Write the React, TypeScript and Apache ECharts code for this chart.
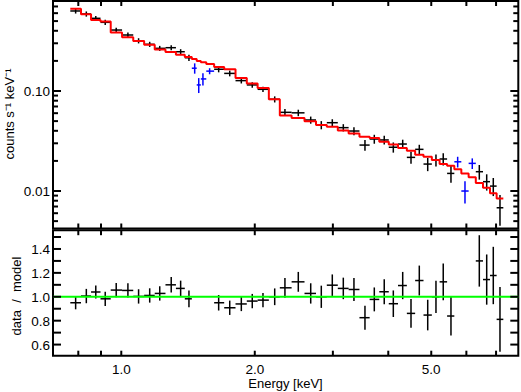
import React, { useEffect, useRef } from 'react';
import * as echarts from 'echarts';

// ---------- data ----------
const blackEnergy = [0.789, 0.834, 0.876, 0.920, 0.974, 1.035, 1.094, 1.159, 1.221, 1.296, 1.361, 1.421, 1.658, 1.756, 1.865, 1.974, 2.087, 2.218, 2.339, 2.507, 2.674, 2.825, 2.991, 3.167, 3.347, 3.544, 3.720, 3.917, 4.106, 4.311, 4.501, 4.699, 4.909, 5.124, 5.321, 5.539, 6.417, 6.668, 6.900, 7.144];
const blackFlux = [0.631, 0.589, 0.533, 0.486, 0.407, 0.363, 0.318, 0.293, 0.267, 0.271, 0.247, 0.215, 0.165, 0.150, 0.127, 0.115, 0.104, 0.0826, 0.0612, 0.0605, 0.0513, 0.0457, 0.0482, 0.0430, 0.0398, 0.0288, 0.0331, 0.0324, 0.0274, 0.0295, 0.0217, 0.0261, 0.0186, 0.0204, 0.0209, 0.0150, 0.0156, 0.0124, 0.0112, 0.0068];
const blackFluxErr = [0.0365, 0.0351, 0.0282, 0.0297, 0.0231, 0.0207, 0.0190, 0.0174, 0.0156, 0.0160, 0.0150, 0.0153, 0.0113, 0.0099, 0.0081, 0.0072, 0.0064, 0.0058, 0.0047, 0.0045, 0.0042, 0.0043, 0.0040, 0.0036, 0.0036, 0.0035, 0.0034, 0.0032, 0.0032, 0.0031, 0.0030, 0.0029, 0.0028, 0.0028, 0.0029, 0.0029, 0.0026, 0.0023, 0.0023, 0.0023];
const blackModel = [0.664, 0.585, 0.513, 0.494, 0.385, 0.345, 0.317, 0.290, 0.260, 0.246, 0.231, 0.219, 0.174, 0.165, 0.135, 0.119, 0.107, 0.0826, 0.0569, 0.0538, 0.0499, 0.0457, 0.0439, 0.0402, 0.0375, 0.0349, 0.0338, 0.0311, 0.0291, 0.0270, 0.0252, 0.0230, 0.0220, 0.0204, 0.0186, 0.0179, 0.0120, 0.0108, 0.0095, 0.0084];
const ratio = [0.95, 1.006, 1.04, 0.983, 1.056, 1.053, 1.003, 1.011, 1.028, 1.10, 1.07, 0.983, 0.95, 0.908, 0.94, 0.964, 0.972, 1.0, 1.075, 1.125, 1.028, 1.0, 1.097, 1.07, 1.061, 0.825, 0.978, 1.042, 0.942, 1.094, 0.861, 1.136, 0.847, 1.0, 1.125, 0.839, 1.30, 1.144, 1.178, 0.811];
const ratioErr = [0.055, 0.06, 0.055, 0.06, 0.06, 0.06, 0.06, 0.06, 0.06, 0.065, 0.065, 0.07, 0.065, 0.06, 0.06, 0.06, 0.06, 0.07, 0.083, 0.083, 0.085, 0.093, 0.09, 0.09, 0.097, 0.1, 0.1, 0.104, 0.111, 0.114, 0.12, 0.125, 0.128, 0.135, 0.154, 0.164, 0.215, 0.21, 0.24, 0.27];

const blueEnergy = [1.464, 1.495, 1.528, 1.582, 5.735, 5.957, 6.187];
const blueFlux = [0.169, 0.115, 0.132, 0.158, 0.0196, 0.0100, 0.0189];
const blueFluxErr = [0.020, 0.0196, 0.0185, 0.011, 0.0024, 0.0025, 0.0023];
const blueModel = [0.209, 0.200, 0.194, 0.186, 0.0165, 0.0150, 0.0137];

const xTickValues = [0.8, 0.9, 1, 2, 3, 4, 5, 6, 7];
const xTickLabels = ['', '', '1.0', '2.0', '', '', '5.0', '', ''];
const fluxTickValues = [0.005, 0.006, 0.007, 0.008, 0.009, 0.01, 0.02, 0.03, 0.04, 0.05, 0.06, 0.07, 0.08, 0.09, 0.1, 0.2, 0.3, 0.4, 0.5, 0.6, 0.7];
const fluxTickLabels = ['', '', '', '', '', '0.01', '', '', '', '', '', '', '', '', '0.10', '', '', '', '', '', ''];
const ratioTickValues = [0.6, 0.7, 0.8, 0.9, 1.0, 1.1, 1.2, 1.3, 1.4, 1.5];
const ratioTickLabels = ['0.6', '', '0.8', '', '1.0', '', '1.2', '', '1.4', ''];

const X_MIN = 0.7015;
const X_MAX = 7.857;
const FLUX_MIN = 0.00422;
const FLUX_MAX = 0.794;
const RATIO_MIN = 0.507;
const RATIO_MAX = 1.557;

const FONT = "'Liberation Sans', Arial, Helvetica, sans-serif";

// ---------- bins (edges halfway, in log space, between neighbouring channels) ----------
type Bin = { e: number; m: number; lo: number; hi: number };
function buildBins(): Bin[] {
  const all = [
    ...blackEnergy.map((e, i) => ({ e, m: blackModel[i] })),
    ...blueEnergy.map((e, i) => ({ e, m: blueModel[i] })),
  ].sort((a, b) => a.e - b.e);
  return all.map((b, i) => {
    const prev = all[i - 1];
    const next = all[i + 1];
    const lo = prev ? Math.sqrt(prev.e * b.e) : (b.e * b.e) / Math.sqrt(b.e * next.e);
    const hi = next ? Math.sqrt(next.e * b.e) : (b.e * b.e) / Math.sqrt(b.e * prev.e);
    return { e: b.e, m: b.m, lo, hi };
  });
}

export default function App() {
  const ref = useRef<HTMLDivElement>(null);
  useEffect(() => {
    if (!ref.current) return;
    const chart = echarts.init(ref.current, undefined, { renderer: 'svg' });
    const bins = buildBins();
    const edgeOf = (e: number) => bins.find((b) => b.e === e)!;

    const modelLine: number[][] = [];
    bins.forEach((b) => {
      modelLine.push([b.lo, b.m]);
      modelLine.push([b.hi, b.m]);
    });

    const errBarSeries = (
      name: string,
      color: string,
      data: number[][],
      gi: number
    ) => ({
      type: 'custom',
      name,
      xAxisIndex: gi,
      yAxisIndex: gi,
      clip: false,
      z: 3,
      encode: { x: 0, y: 1 },
      data,
      renderItem: (params: any, api: any) => {
        const x = api.value(0);
        const y = api.value(1);
        const err = api.value(2);
        const p = api.coord([x, y]);
        const pLo = api.coord([api.value(3), y]);
        const pHi = api.coord([api.value(4), y]);
        const pUp = api.coord([x, y + err]);
        const pDn = api.coord([x, y - err]);
        const st = { stroke: color, lineWidth: 1.5 };
        return {
          type: 'group',
          children: [
            { type: 'line', shape: { x1: pLo[0], y1: p[1], x2: pHi[0], y2: p[1] }, style: st },
            { type: 'line', shape: { x1: p[0], y1: pUp[1], x2: p[0], y2: pDn[1] }, style: st },
          ],
        };
      },
    });

    const xTickSeries = (gi: number, yVal: number, len: number, withLabels: boolean) => ({
      type: 'custom',
      xAxisIndex: gi,
      yAxisIndex: gi,
      clip: false,
      z: 10,
      silent: true,
      encode: { x: 0, y: 1 },
      data: xTickValues.map((v) => [v, yVal]),
      renderItem: (params: any, api: any) => {
        const cs = params.coordSys;
        const px = api.coord([api.value(0), api.value(1)])[0];
        const st = { stroke: '#000', lineWidth: 2 };
        const bottom = cs.y + cs.height;
        const children: any[] = [
          { type: 'line', shape: { x1: px, y1: bottom, x2: px, y2: bottom - len }, style: st },
          { type: 'line', shape: { x1: px, y1: cs.y, x2: px, y2: cs.y + len }, style: st },
        ];
        const label = xTickLabels[params.dataIndex];
        if (withLabels && label) {
          children.push({
            type: 'text',
            x: px,
            y: bottom + 14,
            style: { text: label, fill: '#000', fontSize: 13.5, fontFamily: FONT, align: 'center', verticalAlign: 'middle' },
          });
        }
        return { type: 'group', children };
      },
    });

    const yTickSeries = (
      gi: number,
      values: number[],
      labels: string[],
      majorLen: number,
      minorLen: number
    ) => ({
      type: 'custom',
      xAxisIndex: gi,
      yAxisIndex: gi,
      clip: false,
      z: 10,
      silent: true,
      encode: { x: 0, y: 1 },
      data: values.map((v) => [X_MIN, v]),
      renderItem: (params: any, api: any) => {
        const cs = params.coordSys;
        const py = api.coord([api.value(0), api.value(1)])[1];
        const label = labels[params.dataIndex];
        const len = label ? majorLen : minorLen;
        const st = { stroke: '#000', lineWidth: 2 };
        const right = cs.x + cs.width;
        const children: any[] = [
          { type: 'line', shape: { x1: cs.x, y1: py, x2: cs.x + len, y2: py }, style: st },
          { type: 'line', shape: { x1: right, y1: py, x2: right - len, y2: py }, style: st },
        ];
        if (label) {
          children.push({
            type: 'text',
            x: cs.x - 3,
            y: py + 0.5,
            style: { text: label, fill: '#000', fontSize: 13.5, fontFamily: FONT, align: 'right', verticalAlign: 'middle' },
          });
        }
        return { type: 'group', children };
      },
    });

    const hiddenAxis = {
      axisLine: { show: false },
      axisTick: { show: false },
      axisLabel: { show: false },
      splitLine: { show: false },
      minorTick: { show: false },
    };

    const option: any = {
      animation: false,
      backgroundColor: '#fff',
      grid: [
        { left: 53, right: 2.7, top: 1, height: 227.5, show: true, borderColor: '#000', borderWidth: 2, backgroundColor: 'transparent' },
        { left: 53, right: 2.7, top: 230.2, height: 125.5, show: true, borderColor: '#000', borderWidth: 2, backgroundColor: 'transparent' },
      ],
      xAxis: [
        { type: 'log', logBase: 10, gridIndex: 0, min: X_MIN, max: X_MAX, ...hiddenAxis },
        { type: 'log', logBase: 10, gridIndex: 1, min: X_MIN, max: X_MAX, ...hiddenAxis },
      ],
      yAxis: [
        { type: 'log', logBase: 10, gridIndex: 0, min: FLUX_MIN, max: FLUX_MAX, ...hiddenAxis },
        { type: 'value', gridIndex: 1, min: RATIO_MIN, max: RATIO_MAX, ...hiddenAxis },
      ],
      graphic: [
        {
          type: 'text',
          x: 9.5,
          y: 114,
          rotation: Math.PI / 2,
          style: { text: 'counts s\u207B\u00B9 keV\u207B\u00B9', fill: '#000', fontSize: 13, fontFamily: FONT, align: 'center', verticalAlign: 'middle' },
        },
        {
          type: 'text',
          x: 16,
          y: 296,
          rotation: Math.PI / 2,
          style: { text: 'data  /  model', fill: '#000', fontSize: 13, fontFamily: FONT, align: 'center', verticalAlign: 'middle' },
        },
        {
          type: 'text',
          x: 285.5,
          y: 383,
          style: { text: 'Energy [keV]', fill: '#000', fontSize: 13, fontFamily: FONT, align: 'center', verticalAlign: 'middle' },
        },
      ],
      series: [
        errBarSeries(
          'data',
          '#000000',
          blackEnergy.map((e, i) => [e, blackFlux[i], blackFluxErr[i], edgeOf(e).lo, edgeOf(e).hi]),
          0
        ),
        errBarSeries(
          'data2',
          '#0000ff',
          blueEnergy.map((e, i) => [e, blueFlux[i], blueFluxErr[i], edgeOf(e).lo, edgeOf(e).hi]),
          0
        ),
        {
          type: 'line',
          name: 'model',
          xAxisIndex: 0,
          yAxisIndex: 0,
          data: modelLine,
          showSymbol: false,
          symbol: 'none',
          z: 4,
          lineStyle: { color: '#ff0000', width: 2 },
        },
        errBarSeries(
          'ratio',
          '#000000',
          blackEnergy.map((e, i) => [e, ratio[i], ratioErr[i], edgeOf(e).lo, edgeOf(e).hi]),
          1
        ),
        {
          type: 'line',
          name: 'unity',
          xAxisIndex: 1,
          yAxisIndex: 1,
          data: [
            [X_MIN, 1],
            [X_MAX, 1],
          ],
          showSymbol: false,
          symbol: 'none',
          z: 4,
          lineStyle: { color: '#00ff00', width: 2 },
        },
        xTickSeries(0, FLUX_MIN, 5, false),
        xTickSeries(1, RATIO_MIN, 5, true),
        yTickSeries(0, fluxTickValues, fluxTickLabels, 8, 5),
        yTickSeries(1, ratioTickValues, ratioTickLabels.map((l, i) => l || ' ').map((l) => (l === ' ' ? '' : l)), 8, 8),
      ],
    };
    chart.setOption(option);
    return () => chart.dispose();
  }, []);

  return (
    <div
      ref={ref}
      style={{ position: 'fixed', left: 0, top: 0, width: 521, height: 392, background: '#fff' }}
    />
  );
}
